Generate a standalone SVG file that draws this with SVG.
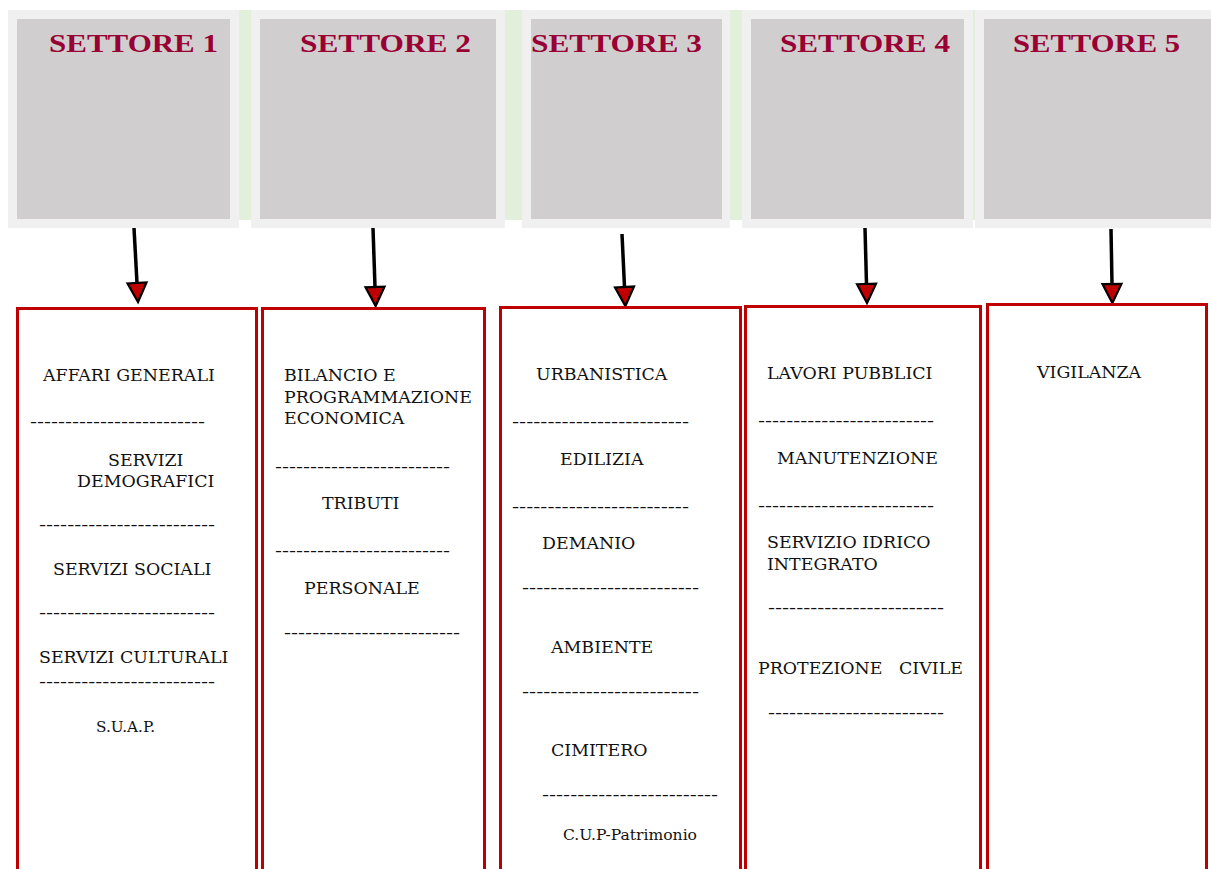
<svg xmlns="http://www.w3.org/2000/svg" width="1211" height="869" viewBox="0 0 1211 869">
<defs>
<style>
.band{fill:#e2efda}
.outer{fill:#f0f0f0}
.inner{fill:#d0cecf}
.title{font-family:"Liberation Serif","Times New Roman",serif;font-weight:bold;font-size:26px;fill:#990033}
.box{fill:#ffffff;stroke:#c00000;stroke-width:3}
.t{font-family:"DejaVu Serif","Liberation Serif",serif;font-size:17.4px;fill:#111111}
.s{font-family:"DejaVu Serif","Liberation Serif",serif;font-size:14.5px;fill:#111111}
.conn{stroke:#000;stroke-width:3.5;fill:none;marker-end:url(#ah)}
</style>
<marker id="ah" markerUnits="userSpaceOnUse" viewBox="-2 -12 24 24" refX="0" refY="0" markerWidth="24" markerHeight="24" orient="auto">
<path d="M0,-9.5 L19,0 L0,9.5 Z" fill="#c00000" stroke="#000" stroke-width="2.2" stroke-linejoin="miter"/>
</marker>
</defs>
<rect x="0" y="0" width="1211" height="869" fill="#ffffff"/>
<rect class="band" x="8" y="10" width="1203" height="210"/>

<g id="settore1">
<rect class="outer" x="8" y="10" width="231" height="218"/>
<rect class="inner" x="17" y="19" width="213" height="200"/>
<text class="title" x="49" y="52" textLength="169" lengthAdjust="spacingAndGlyphs">SETTORE 1</text>
</g>
<g id="settore2">
<rect class="outer" x="251" y="10" width="254" height="218"/>
<rect class="inner" x="260" y="19" width="236" height="200"/>
<text class="title" x="300" y="52" textLength="171" lengthAdjust="spacingAndGlyphs">SETTORE 2</text>
</g>
<g id="settore3">
<rect class="outer" x="522" y="10" width="208" height="218"/>
<rect class="inner" x="531" y="19" width="191" height="200"/>
<text class="title" x="531" y="52" textLength="171" lengthAdjust="spacingAndGlyphs">SETTORE 3</text>
</g>
<g id="settore4">
<rect class="outer" x="742" y="10" width="231" height="218"/>
<rect class="inner" x="751" y="19" width="213" height="200"/>
<text class="title" x="780" y="52" textLength="170" lengthAdjust="spacingAndGlyphs">SETTORE 4</text>
</g>
<g id="settore5">
<rect class="outer" x="975" y="10" width="236" height="218"/>
<rect class="inner" x="984" y="19" width="227" height="200"/>
<text class="title" x="1013" y="52" textLength="167" lengthAdjust="spacingAndGlyphs">SETTORE 5</text>
</g>

<g id="connectors">
<line class="conn" x1="134" y1="228" x2="137" y2="283"/>
<line class="conn" x1="373" y1="228" x2="375" y2="287"/>
<line class="conn" x1="622" y1="234" x2="624.5" y2="287"/>
<line class="conn" x1="865" y1="228" x2="866.5" y2="284"/>
<line class="conn" x1="1111" y1="229" x2="1112" y2="284"/>
</g>

<g id="uffici1">
<rect class="box" x="17.5" y="308.5" width="239" height="580"/>
<text class="t" x="43" y="381">AFFARI GENERALI</text>
<text class="t" x="30" y="427" textLength="175" lengthAdjust="spacingAndGlyphs">-------------------------</text>
<text class="t" x="108" y="466">SERVIZI</text>
<text class="t" x="77" y="487">DEMOGRAFICI</text>
<text class="t" x="39" y="530" textLength="176" lengthAdjust="spacingAndGlyphs">-------------------------</text>
<text class="t" x="53" y="575">SERVIZI SOCIALI</text>
<text class="t" x="39" y="618" textLength="176" lengthAdjust="spacingAndGlyphs">-------------------------</text>
<text class="t" x="39" y="663">SERVIZI CULTURALI</text>
<text class="t" x="39" y="687" textLength="176" lengthAdjust="spacingAndGlyphs">-------------------------</text>
<text class="s" x="96" y="732" textLength="59" lengthAdjust="spacingAndGlyphs">S.U.A.P.</text>
</g>

<g id="uffici2">
<rect class="box" x="262.5" y="308.5" width="222" height="580"/>
<text class="t" x="284" y="381">BILANCIO E</text>
<text class="t" x="284" y="403">PROGRAMMAZIONE</text>
<text class="t" x="284" y="424">ECONOMICA</text>
<text class="t" x="275" y="472" textLength="175" lengthAdjust="spacingAndGlyphs">-------------------------</text>
<text class="t" x="322" y="509">TRIBUTI</text>
<text class="t" x="275" y="556" textLength="175" lengthAdjust="spacingAndGlyphs">-------------------------</text>
<text class="t" x="304" y="594">PERSONALE</text>
<text class="t" x="284" y="638" textLength="176" lengthAdjust="spacingAndGlyphs">-------------------------</text>
</g>

<g id="uffici3">
<rect class="box" x="500.5" y="307.5" width="240" height="580"/>
<text class="t" x="536" y="380">URBANISTICA</text>
<text class="t" x="512" y="427" textLength="177" lengthAdjust="spacingAndGlyphs">-------------------------</text>
<text class="t" x="560" y="465">EDILIZIA</text>
<text class="t" x="512" y="512" textLength="177" lengthAdjust="spacingAndGlyphs">-------------------------</text>
<text class="t" x="542" y="549">DEMANIO</text>
<text class="t" x="522" y="593" textLength="177" lengthAdjust="spacingAndGlyphs">-------------------------</text>
<text class="t" x="551" y="653">AMBIENTE</text>
<text class="t" x="522" y="697" textLength="177" lengthAdjust="spacingAndGlyphs">-------------------------</text>
<text class="t" x="551" y="756">CIMITERO</text>
<text class="t" x="542" y="800" textLength="176" lengthAdjust="spacingAndGlyphs">-------------------------</text>
<text class="s" x="563" y="840" textLength="134" lengthAdjust="spacingAndGlyphs">C.U.P-Patrimonio</text>
</g>

<g id="uffici4">
<rect class="box" x="745.5" y="306.5" width="235" height="580"/>
<text class="t" x="767" y="379">LAVORI PUBBLICI</text>
<text class="t" x="758" y="426" textLength="176" lengthAdjust="spacingAndGlyphs">-------------------------</text>
<text class="t" x="777" y="464">MANUTENZIONE</text>
<text class="t" x="758" y="511" textLength="176" lengthAdjust="spacingAndGlyphs">-------------------------</text>
<text class="t" x="767" y="548">SERVIZIO IDRICO</text>
<text class="t" x="767" y="570">INTEGRATO</text>
<text class="t" x="768" y="613" textLength="176" lengthAdjust="spacingAndGlyphs">-------------------------</text>
<text class="t" x="758" y="674" xml:space="preserve">PROTEZIONE   CIVILE</text>
<text class="t" x="768" y="718" textLength="176" lengthAdjust="spacingAndGlyphs">-------------------------</text>
</g>

<g id="uffici5">
<rect class="box" x="987.5" y="304.5" width="219" height="580"/>
<text class="t" x="1037" y="378">VIGILANZA</text>
</g>
</svg>
